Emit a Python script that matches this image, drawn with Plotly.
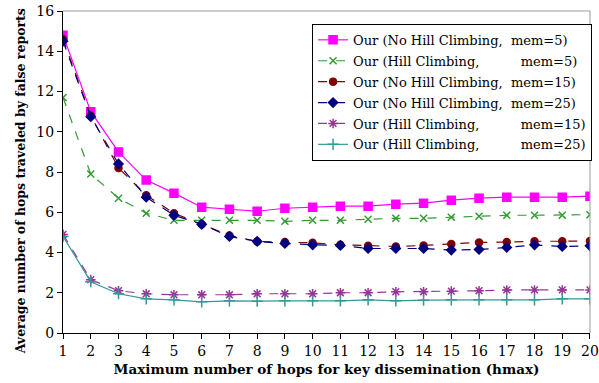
import plotly.graph_objects as go

hmax = list(range(1, 21))

nohc_mem5 = [14.8, 11.0, 9.0, 7.6, 6.95, 6.25, 6.15, 6.05, 6.2, 6.25, 6.3, 6.3, 6.4, 6.45, 6.6, 6.7, 6.75, 6.75, 6.75, 6.8]
hc_mem5 = [11.7, 7.9, 6.7, 5.95, 5.6, 5.6, 5.6, 5.6, 5.55, 5.6, 5.6, 5.65, 5.7, 5.7, 5.75, 5.8, 5.85, 5.85, 5.85, 5.88]
nohc_mem15 = [14.6, 10.8, 8.2, 6.85, 5.95, 5.4, 4.85, 4.55, 4.52, 4.48, 4.38, 4.33, 4.3, 4.35, 4.42, 4.5, 4.52, 4.56, 4.56, 4.57]
nohc_mem25 = [14.5, 10.75, 8.4, 6.75, 5.85, 5.4, 4.8, 4.55, 4.45, 4.38, 4.35, 4.2, 4.2, 4.2, 4.12, 4.15, 4.25, 4.38, 4.3, 4.33]
hc_mem15 = [4.9, 2.65, 2.1, 1.95, 1.9, 1.9, 1.9, 1.95, 1.95, 1.95, 2.0, 2.0, 2.05, 2.05, 2.08, 2.1, 2.14, 2.14, 2.14, 2.14]
hc_mem25 = [4.8, 2.55, 1.95, 1.7, 1.65, 1.55, 1.6, 1.58, 1.6, 1.6, 1.6, 1.65, 1.6, 1.63, 1.65, 1.65, 1.65, 1.65, 1.7, 1.7]

NB = "\u00a0"
names = [
    "Our (No Hill Climbing," + NB * 2 + "mem=5)",
    "Our (Hill Climbing," + NB * 10 + "mem=5)",
    "Our (No Hill Climbing," + NB * 2 + "mem=15)",
    "Our (No Hill Climbing," + NB * 2 + "mem=25)",
    "Our (Hill Climbing," + NB * 10 + "mem=15)",
    "Our (Hill Climbing," + NB * 10 + "mem=25)",
]
series = [nohc_mem5, hc_mem5, nohc_mem15, nohc_mem25, hc_mem15, hc_mem25]
colors = ["#ff00ff", "#339933", "#800000", "#000080", "#993399", "#339999"]
symbols = ["square", "x-thin-open", "circle", "diamond", "asterisk-open", "cross-thin-open"]
sizes = [8, 7, 7, 7, 8, 8]
dashes = ["solid", "dash", "dash", "dash", "dash", "solid"]

fig = go.Figure()
for i, (name, ys, c, s, sz, d) in enumerate(zip(names, series, colors, symbols, sizes, dashes)):
    fig.add_trace(go.Scatter(
        x=hmax, y=ys, name=name, mode="lines+markers", legendgroup=f"g{i}",
        line=dict(color=c, width=1.2, dash=d),
        marker=dict(symbol=s, size=sz, color=c, line=dict(color=c, width=1.5)),
    ))

font_family = "DejaVu Serif"
fig.update_layout(
    template="none",
    width=599, height=383,
    margin=dict(l=63, r=7, t=11, b=50),
    paper_bgcolor="white", plot_bgcolor="white",
    font=dict(family=font_family, color="black"),
    showlegend=True,
    legend=dict(
        x=0.4726, y=0.96, xanchor="left", yanchor="top",
        bgcolor="white", bordercolor="black", borderwidth=1,
        font=dict(family=font_family, size=13, color="black"),
        tracegroupgap=1, itemwidth=30,
    ),
    xaxis=dict(
        range=[0.999, 20.001], tickvals=hmax, ticktext=[str(v) for v in hmax],
        showline=True, linecolor="black", linewidth=1, mirror=False,
        ticks="outside", ticklen=5, tickcolor="black",
        showgrid=False, zeroline=False, automargin=False,
        tickfont=dict(size=14, family=font_family),
        title=dict(text="<b>Maximum number of hops for key dissemination (hmax)</b>",
                   font=dict(size=13.5, family=font_family), standoff=6),
    ),
    yaxis=dict(
        range=[0, 16], dtick=2,
        showline=True, linecolor="black", linewidth=1,
        ticks="outside", ticklen=5, tickcolor="black",
        showgrid=False, zeroline=False, automargin=False,
        tickfont=dict(size=14, family=font_family),
    ),
    annotations=[
        dict(text="<b>Average number of hops traveled by false reports</b>",
             xref="paper", yref="paper", x=-0.081, y=0.472,
             xanchor="center", yanchor="middle", textangle=-90, showarrow=False,
             font=dict(size=12.5, family=font_family, color="black")),
    ],
    shapes=[
        dict(type="line", xref="paper", yref="paper", x0=0, x1=1, y0=1, y1=1,
             line=dict(color="#999999", width=1)),
        dict(type="line", xref="paper", yref="paper", x0=1, x1=1, y0=0, y1=1,
             line=dict(color="#999999", width=1)),
    ],
)

fig.write_html("out.html", config={"displayModeBar": False},
               post_script="document.body.style.margin='0px';")
